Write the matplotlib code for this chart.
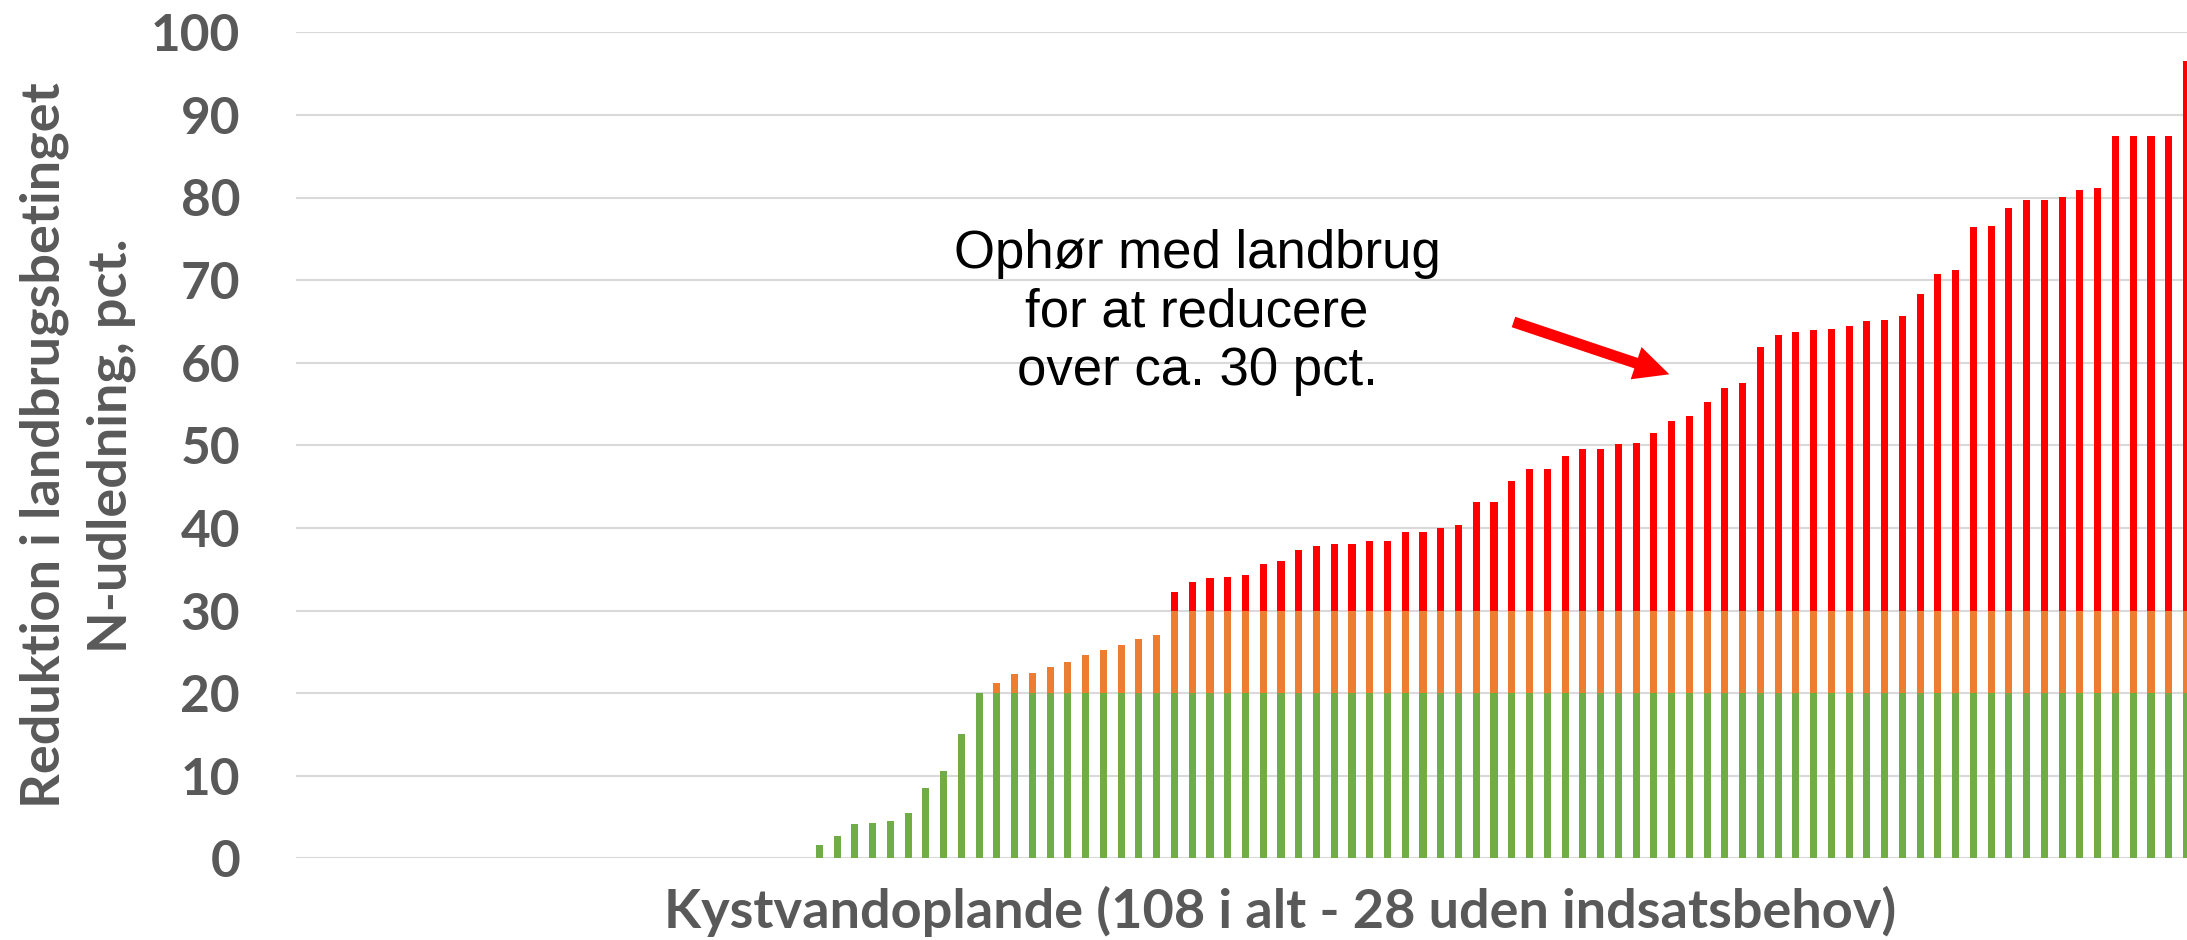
import numpy as np
import matplotlib
matplotlib.use("Agg")
import matplotlib.pyplot as plt
from matplotlib.patches import FancyArrowPatch

# ---------------- data ----------------
n_zero = 29  # catchments without any reduction need (bars of height 0)
reduction = [
    1.6, 2.7, 4.1, 4.3, 4.5, 5.5, 8.5, 10.6, 15.0, 20.0,
    21.2, 22.3, 22.4, 23.2, 23.8, 24.6, 25.2, 25.8, 26.6, 27.0,
    32.2, 33.4, 33.9, 34.1, 34.3, 35.6, 36.0, 37.3, 37.8, 38.0,
    38.1, 38.4, 38.4, 39.5, 39.5, 40.0, 40.4, 43.1, 43.1, 45.7,
    47.1, 47.1, 48.7, 49.5, 49.6, 50.1, 50.3, 51.5, 52.9, 53.5,
    55.2, 56.9, 57.5, 61.9, 63.4, 63.75, 64.0, 64.1, 64.4, 65.1,
    65.2, 65.7, 68.3, 70.7, 71.2, 76.4, 76.5, 78.7, 79.7, 79.7,
    80.1, 80.9, 81.1, 87.4, 87.4, 87.4, 87.4, 96.5,
]
values = [0.0] * n_zero + reduction
level_green = 20   # up to 20 pct.
level_orange = 30  # 20-30 pct.
y_ticks = list(range(0, 101, 10))

x_label = "Kystvandoplande (108 i alt - 28 uden indsatsbehov)"
y_label = "Reduktion i landbrugsbetinget\nN-udledning, pct."
note = "Ophør med landbrug\nfor at reducere\nover ca. 30 pct."

# ---------------- styling ----------------
C_GREEN = "#70AD47"
C_ORANGE = "#ED7D31"
C_RED = "#FF0000"
C_TEXT = "#595959"
C_GRID = "#D9D9D9"

W, H, DPI = 2187, 940, 100
fig = plt.figure(figsize=(W / DPI, H / DPI), dpi=DPI)
fig.patch.set_facecolor("white")

ax_left, ax_right = 295.6, 2187.0
ax_bottom, ax_top = 858.3, 32.3
ax = fig.add_axes([ax_left / W, (H - ax_bottom) / H,
                   (ax_right - ax_left) / W, (ax_bottom - ax_top) / H])

v = np.array(values)
x = np.arange(len(v))
green = np.minimum(v, level_green)
orange = np.clip(v - level_green, 0, level_orange - level_green)
red = np.clip(v - level_orange, 0, None)

bw = 0.4
ax.bar(x, green, width=bw, color=C_GREEN, linewidth=0)
ax.bar(x, orange, width=bw, bottom=green, color=C_ORANGE, linewidth=0)
ax.bar(x, red, width=bw, bottom=green + orange, color=C_RED, linewidth=0)

ax.set_xlim(-0.5, 106.03)
ax.set_ylim(0, 100)
ax.set_yticks(y_ticks)
ax.set_xticks([])
ax.set_axisbelow(True)
ax.yaxis.grid(True, color=C_GRID, linewidth=1.5)
for s in ax.spines.values():
    s.set_visible(False)

ax.tick_params(axis="y", length=0, pad=40, labelcolor=C_TEXT)
for lab in ax.get_yticklabels():
    lab.set_fontfamily("Lato")
    lab.set_fontweight("bold")
    lab.set_fontsize(37)

# y label
yl = ax.set_ylabel(y_label, family="Lato", fontweight="bold", fontsize=39,
                   color=C_TEXT, linespacing=1.45)
yl.set_verticalalignment("center")
yl.set_horizontalalignment("center")
ax.yaxis.set_label_coords((78 - ax_left) / (ax_right - ax_left), 0.5)

# x label
xl = ax.set_xlabel(x_label, family="Lato", fontweight="bold", fontsize=39,
                   color=C_TEXT)
xl.set_verticalalignment("baseline")
ax.xaxis.set_label_coords((1280 - ax_left) / (ax_right - ax_left),
                          -(928 - ax_bottom) / (ax_bottom - ax_top))

# annotation text
fig.text(1197 / W, 1 - 229 / H, note, ha="center", va="top",
         multialignment="center", family="Liberation Sans", fontsize=38,
         color="black", linespacing=1.22)

# red arrow
px2pt = 72.0 / DPI
arrow = FancyArrowPatch(
    (1513.5 / W, 1 - 322 / H), (1669.3 / W, 1 - 374.3 / H),
    transform=fig.transFigure,
    arrowstyle=f"simple,head_length={35 * px2pt},head_width={34 * px2pt},tail_width={11 * px2pt}",
    mutation_scale=1, shrinkA=0, shrinkB=0,
    color=C_RED, linewidth=0,
)
fig.patches.append(arrow)

fig.savefig("out.png", dpi=DPI, facecolor="white")
